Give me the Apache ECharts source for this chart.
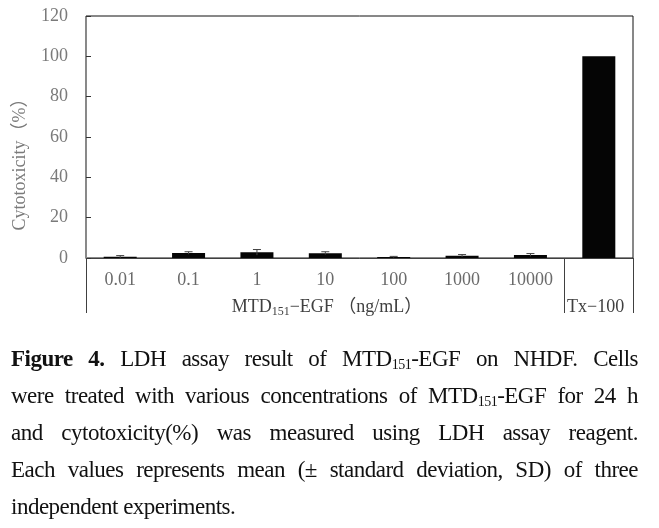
<!DOCTYPE html>
<html>
<head>
<meta charset="utf-8">
<script src="https://cdn.jsdelivr.net/npm/echarts@6/dist/echarts.min.js"></script>
<style>
body { margin: 0; background: #fff; }
#chart { position: absolute; left: 0; top: 0; width: 659px; height: 528px; }
#caption {
    position: absolute; left: 11px; top: 340px; width: 627px;
    font-family: "Liberation Serif", serif; font-size: 23px; letter-spacing: -0.5px;
    line-height: 37px; color: #111;
}
#caption .ln { text-align: justify; text-align-last: justify; white-space: nowrap; }
#caption .ln.last { text-align-last: left; }
#caption sub { font-size: 14px; vertical-align: -3px; line-height: 0; letter-spacing: -0.5px; }
</style>
</head>
<body>
<div id="chart"></div>
<div id="caption">
    <div class="ln"><b>Figure 4.</b> LDH assay result of MTD<sub>151</sub>-EGF on NHDF. Cells</div>
    <div class="ln">were treated with various concentrations of MTD<sub>151</sub>-EGF for 24 h</div>
    <div class="ln">and cytotoxicity(%) was measured using LDH assay reagent.</div>
    <div class="ln">Each values represents mean (± standard deviation, SD) of three</div>
    <div class="ln last">independent experiments.</div>
</div>
<script>
// concentrations (ng/mL) + Triton X-100 control
var categories = ['0.01', '0.1', '1', '10', '100', '1000', '10000', 'Tx\u2212100'];
var cytotoxicity = [0.6, 2.5, 2.8, 2.4, 0.5, 1.1, 1.5, 100];
var sd = [0.6, 0.6, 1.4, 0.7, 0.3, 0.6, 0.7, 0];
var yMin = 0, yMax = 120, yStep = 20;

var font = '"Liberation Serif", "Noto Sans CJK KR", serif';

var chart = echarts.init(document.getElementById('chart'));

var errData = [];
for (var i = 0; i < categories.length; i++) {
    errData.push([i, cytotoxicity[i], sd[i]]);
}

var option = {
    animation: false,
    textStyle: { fontFamily: font },
    grid: {
        left: 86, top: 16, right: 26, bottom: 270,
        show: true, borderColor: '#111', borderWidth: 1, backgroundColor: 'transparent'
    },
    xAxis: [
        {
            type: 'category',
            data: categories,
            axisLine: { lineStyle: { color: '#404040', width: 1 } },
            axisTick: { interval: 0, length: 29, lineStyle: { color: '#404040' } },
            axisLabel: {
                interval: 0, margin: 13, fontSize: 18, color: '#6a6a6a', fontFamily: font,
                formatter: function (v, i) { return i === 7 ? '' : v; }
            },
            splitLine: { show: false }
        },
        {
            // long separators: left edge, before Tx-100, right edge
            type: 'value',
            position: 'bottom',
            min: 0, max: 8, interval: 7,
            axisLine: { show: false },
            axisTick: { show: true, length: 55, lineStyle: { color: '#404040' } },
            axisLabel: { show: false },
            splitLine: { show: false }
        }
    ],
    yAxis: {
        type: 'value',
        min: yMin, max: yMax, interval: yStep,
        axisLine: { show: true, lineStyle: { color: '#8a8a8a' } },
        axisTick: { show: true, inside: true, length: 5, lineStyle: { color: '#333' } },
        axisLabel: { margin: 18, fontSize: 18, color: '#7a7a7a', fontFamily: font },
        splitLine: { show: false }
    },
    graphic: [
        {
            type: 'text', x: 20, y: 160, rotation: Math.PI / 2,
            style: {
                text: 'Cytotoxicity\uff08%\uff09', fontSize: 18, fontFamily: font,
                fill: '#7a7a7a', align: 'center', verticalAlign: 'middle'
            }
        },
        {
            type: 'text', x: 327, y: 307,
            style: {
                text: '{m|MTD}{s|151}{m|\u2212EGF \uff08ng/mL\uff09}',
                align: 'center', verticalAlign: 'middle',
                rich: {
                    m: { fontSize: 18, lineHeight: 22, fontFamily: font, fill: '#404040', color: '#404040' },
                    s: { fontSize: 12, lineHeight: 14, verticalAlign: 'bottom', fontFamily: font, fill: '#404040', color: '#404040' }
                }
            }
        },
        {
            type: 'text', x: 567, y: 307,
            style: {
                text: categories[7], fontSize: 18, fontFamily: font,
                fill: '#404040', align: 'left', verticalAlign: 'middle'
            }
        }
    ],
    series: [
        {
            type: 'bar',
            data: cytotoxicity,
            barWidth: 33,
            itemStyle: { color: '#050505' }
        },
        {
            type: 'custom',
            data: errData,
            encode: { x: 0, y: 1 },
            z: 3,
            renderItem: function (params, api) {
                var idx = api.value(0), m = api.value(1), e = api.value(2);
                if (!e) return;
                var top = api.coord([idx, m + e]);
                var bot = api.coord([idx, Math.max(m - e, 0)]);
                var w = 8;
                return {
                    type: 'group',
                    children: [
                        { type: 'line', shape: { x1: top[0], y1: top[1], x2: bot[0], y2: bot[1] }, style: { stroke: '#444', lineWidth: 1 } },
                        { type: 'line', shape: { x1: top[0] - w / 2, y1: top[1], x2: top[0] + w / 2, y2: top[1] }, style: { stroke: '#444', lineWidth: 1 } }
                    ]
                };
            }
        }
    ]
};

chart.setOption(option);
</script>
</body>
</html>
